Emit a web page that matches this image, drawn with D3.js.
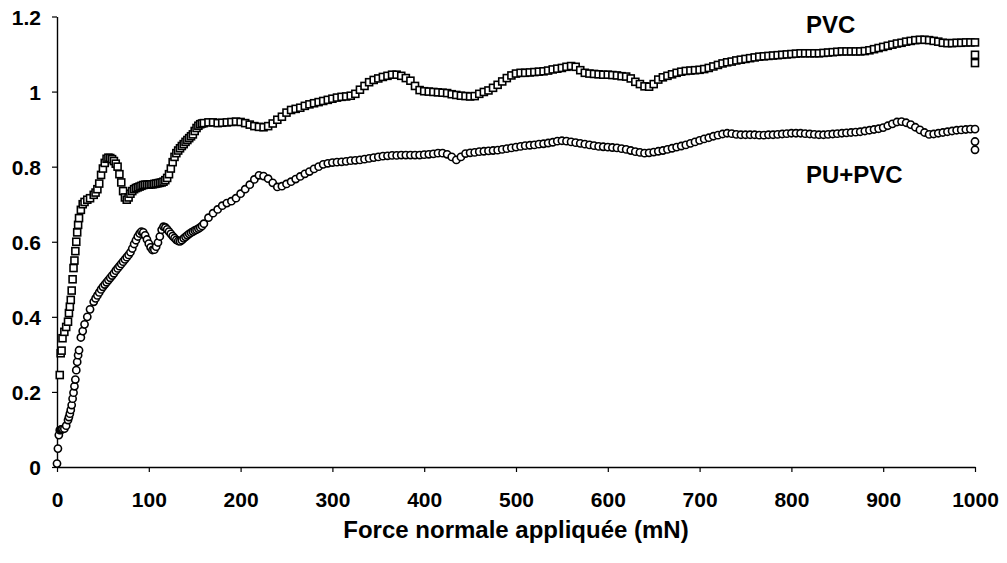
<!DOCTYPE html>
<html>
<head>
<meta charset="utf-8">
<script src="https://cdn.jsdelivr.net/npm/d3@7"></script>
<style>
  body { margin: 0; background: #fff; }
  svg text { font-family: "Liberation Sans", Arial, sans-serif; font-weight: bold; fill: #000; }
</style>
</head>
<body>
<div id="chart"></div>
<script>
// applied normal force (mN), sampled along both curves
var force = [
  0, 1, 2, 3, 4, 5, 6, 8, 10, 12, 13, 14, 15, 16, 17, 18, 19, 20, 21, 22, 23, 24, 26, 28, 30, 33, 36,
  40, 42, 44, 46, 48, 50, 52, 54, 56, 58, 60, 62, 64, 66, 68, 70, 72, 74, 76, 78,
  80, 82, 84, 86, 88, 90, 92, 94, 96, 98, 100, 102, 104, 106, 108, 110, 112, 114, 116, 118,
  120, 122, 124, 126, 128, 130, 132, 134, 136, 138, 140, 142, 144, 146, 148, 150, 152, 154, 156, 158, 160,
  165, 170, 175, 180, 185, 190, 195, 200,
  205, 210, 215, 220, 225, 230, 235, 240, 245, 250, 255, 260, 265, 270, 275, 280, 285, 290, 295, 300,
  305, 310, 315, 320, 325, 330, 335, 340, 345, 350, 355, 360, 365, 370, 375, 380, 385, 390, 395, 400,
  405, 410, 415, 420, 425, 430, 435, 440, 445, 450, 455, 460, 465, 470, 475, 480, 485, 490, 495, 500,
  505, 510, 515, 520, 525, 530, 535, 540, 545, 550, 555, 560, 565, 570, 575, 580, 585, 590, 595, 600,
  605, 610, 615, 620, 625, 630, 635, 640, 645, 650, 655, 660, 665, 670, 675, 680, 685, 690, 695, 700,
  705, 710, 715, 720, 725, 730, 735, 740, 745, 750, 755, 760, 765, 770, 775, 780, 785, 790, 795, 800,
  805, 810, 815, 820, 825, 830, 835, 840, 845, 850, 855, 860, 865, 870, 875, 880, 885, 890, 895, 900,
  905, 910, 915, 920, 925, 930, 935, 940, 945, 950, 955, 960, 965, 970, 975, 980, 985, 990, 995, 1000,
  1000, 1000
];

// friction coefficient, PVC (squares)
var pvc = [
  null, null, null, 0.245, 0.303, 0.31, 0.343, 0.36, 0.373, 0.387, 0.41, 0.427, 0.445, 0.47, 0.50, 0.53, 0.55, 0.575, 0.60, 0.625, 0.645, 0.663, 0.685, 0.700, 0.706, 0.712, 0.716,
  0.725, 0.731, 0.740, 0.755, 0.778, 0.795, 0.810, 0.821, 0.824, 0.823, 0.820, 0.815, 0.808, 0.800, 0.780, 0.758, 0.735, 0.718, 0.712, 0.718,
  0.728, 0.735, 0.740, 0.743, 0.745, 0.747, 0.749, 0.751, 0.752, 0.752, 0.752, 0.753, 0.753, 0.754, 0.755, 0.756, 0.757, 0.758, 0.760, 0.764,
  0.770, 0.780, 0.795, 0.812, 0.826, 0.836, 0.843, 0.849, 0.855, 0.860, 0.866, 0.871, 0.876, 0.881, 0.886, 0.895, 0.903, 0.909, 0.913, 0.915, 0.916,
  0.918, 0.918, 0.916, 0.917, 0.918, 0.919, 0.920, 0.919,
  0.916, 0.912, 0.908, 0.906, 0.905, 0.908, 0.915, 0.925, 0.933, 0.944, 0.951, 0.954, 0.957, 0.962, 0.966, 0.969, 0.972, 0.975, 0.978, 0.981,
  0.984, 0.986, 0.987, 0.989, 0.994, 1.005, 1.015, 1.025, 1.031, 1.035, 1.039, 1.042, 1.045, 1.045, 1.042, 1.036, 1.029, 1.015, 1.004, 1.001,
  1.000, 0.999, 0.998, 0.997, 0.996, 0.993, 0.991, 0.989, 0.988, 0.987, 0.988, 0.994, 0.999, 1.003, 1.010, 1.018, 1.027, 1.036, 1.043, 1.048,
  1.050, 1.050, 1.051, 1.052, 1.053, 1.054, 1.056, 1.059, 1.061, 1.063, 1.066, 1.068, 1.066, 1.057, 1.050, 1.048, 1.047, 1.046, 1.045, 1.045,
  1.044, 1.043, 1.041, 1.040, 1.035, 1.026, 1.020, 1.014, 1.013, 1.020, 1.032, 1.038, 1.042, 1.046, 1.050, 1.053, 1.055, 1.056, 1.057, 1.058,
  1.060, 1.063, 1.067, 1.071, 1.075, 1.078, 1.080, 1.083, 1.085, 1.087, 1.089, 1.091, 1.093, 1.094, 1.095, 1.096, 1.097, 1.098, 1.099, 1.100,
  1.101, 1.102, 1.102, 1.102, 1.102, 1.102, 1.103, 1.104, 1.105, 1.106, 1.107, 1.107, 1.107, 1.107, 1.107, 1.108, 1.110, 1.113, 1.116, 1.119,
  1.122, 1.125, 1.128, 1.130, 1.133, 1.135, 1.137, 1.138, 1.138, 1.137, 1.135, 1.133, 1.130, 1.129, 1.129, 1.130, 1.130, 1.131, 1.131, 1.131,
  1.098, 1.076
];

// friction coefficient, PU+PVC (circles)
var puPvc = [
  0.009, 0.049, 0.085, 0.098, 0.099, 0.100, 0.101, 0.102, 0.110, 0.125, 0.133, 0.142, 0.152, 0.165, 0.182, 0.198, 0.215, 0.233, 0.258, 0.280, 0.298, 0.311, 0.345, 0.362, 0.380, 0.400, 0.420,
  0.440, 0.449, 0.457, 0.465, 0.473, 0.480, 0.486, 0.492, 0.498, 0.504, 0.510, 0.516, 0.523, 0.529, 0.535, 0.541, 0.547, 0.553, 0.559, 0.565,
  0.572, 0.582, 0.594, 0.604, 0.614, 0.622, 0.627, 0.625, 0.617, 0.606, 0.595, 0.585, 0.578, 0.579, 0.587, 0.598, 0.614, 0.632, 0.640, 0.638,
  0.633, 0.627, 0.621, 0.615, 0.610, 0.605, 0.602, 0.601, 0.604, 0.609, 0.613, 0.617, 0.621, 0.624, 0.627, 0.630, 0.632, 0.635, 0.638, 0.642, 0.648,
  0.664, 0.676, 0.686, 0.696, 0.703, 0.708, 0.716, 0.728,
  0.740, 0.752, 0.766, 0.777, 0.775, 0.768, 0.757, 0.746, 0.748, 0.754, 0.760, 0.767, 0.774, 0.781, 0.787, 0.794, 0.800, 0.806, 0.809, 0.811,
  0.812, 0.813, 0.814, 0.816, 0.817, 0.818, 0.820, 0.822, 0.824, 0.826, 0.828, 0.829, 0.830, 0.830, 0.831, 0.831, 0.831, 0.831, 0.831, 0.832,
  0.833, 0.834, 0.836, 0.836, 0.833, 0.826, 0.818, 0.826, 0.835, 0.837, 0.838, 0.840, 0.841, 0.842, 0.843, 0.844, 0.846, 0.848, 0.850, 0.852,
  0.854, 0.856, 0.857, 0.858, 0.860, 0.861, 0.863, 0.865, 0.868, 0.869, 0.868, 0.866, 0.864, 0.862, 0.860, 0.858, 0.856, 0.854, 0.853, 0.852,
  0.851, 0.850, 0.848, 0.846, 0.843, 0.840, 0.838, 0.836, 0.837, 0.839, 0.841, 0.843, 0.846, 0.849, 0.852, 0.855, 0.858, 0.862, 0.866, 0.870,
  0.874, 0.877, 0.881, 0.884, 0.887, 0.889, 0.888, 0.886, 0.885, 0.885, 0.885, 0.885, 0.884, 0.884, 0.885, 0.885, 0.886, 0.887, 0.888, 0.889,
  0.889, 0.889, 0.888, 0.887, 0.886, 0.885, 0.885, 0.886, 0.887, 0.888, 0.889, 0.890, 0.891, 0.892, 0.893, 0.895, 0.897, 0.899, 0.901, 0.904,
  0.909, 0.914, 0.919, 0.920, 0.917, 0.912, 0.905, 0.898, 0.891, 0.886, 0.887, 0.889, 0.891, 0.893, 0.895, 0.897, 0.898, 0.899, 0.900, 0.900,
  0.867, 0.845
];

var xTicks = [0, 100, 200, 300, 400, 500, 600, 700, 800, 900, 1000];
var yTicks = [0, 0.2, 0.4, 0.6, 0.8, 1, 1.2];
var xTitle = "Force normale appliquée (mN)";

var width = 1007, height = 563;
var mLeft = 57, mRight = 975, mTop = 16.5, mBottom = 467;

var svg = d3.select("#chart").append("svg").attr("width", width).attr("height", height);

var x = d3.scaleLinear().domain([0, 1000]).range([mLeft, mRight]);
var y = d3.scaleLinear().domain([0, 1.2]).range([mBottom, mTop]);

var xAxis = d3.axisBottom(x).tickValues(xTicks).tickSize(5).tickSizeOuter(0).tickPadding(20)
    .tickFormat(d3.format("d"));
var yAxis = d3.axisLeft(y).tickValues(yTicks).tickSize(5).tickSizeOuter(0).tickPadding(11)
    .tickFormat(function(d) { return d3.format("")(d); });

var gx = svg.append("g").attr("transform", "translate(0," + mBottom + ")").call(xAxis);
var gy = svg.append("g").attr("transform", "translate(" + mLeft + ",0)").call(yAxis);

[gx, gy].forEach(function(g) {
    g.select(".domain").attr("stroke", "#000").attr("stroke-width", 1.4);
    g.selectAll(".tick line").attr("stroke", "#000").attr("stroke-width", 1.2);
    g.selectAll(".tick text").attr("font-size", 21).attr("font-family", null).attr("fill", "#000");
});
gx.selectAll(".tick text").attr("dy", "0.71em");
gy.selectAll(".tick text").attr("dy", "0.36em");

var pvcData = force.map(function(f, i) { return { f: f, v: pvc[i] }; })
    .filter(function(d) { return d.v !== null; });
var puData = force.map(function(f, i) { return { f: f, v: puPvc[i] }; });

var s = 7;
svg.append("g").selectAll("rect").data(pvcData).enter()
    .append("rect")
    .attr("x", function(d) { return x(d.f) - s / 2; })
    .attr("y", function(d) { return y(d.v) - s / 2; })
    .attr("width", s)
    .attr("height", s)
    .attr("fill", "#fff")
    .attr("stroke", "#000")
    .attr("stroke-width", 1.6);

svg.append("g").selectAll("circle").data(puData).enter()
    .append("circle")
    .attr("cx", function(d) { return x(d.f); })
    .attr("cy", function(d) { return y(d.v); })
    .attr("r", 3.6)
    .attr("fill", "#fff")
    .attr("stroke", "#000")
    .attr("stroke-width", 1.6);

svg.append("text").attr("x", 806).attr("y", 33).attr("font-size", 24).text("PVC");
svg.append("text").attr("x", 806).attr("y", 183).attr("font-size", 24).text("PU+PVC");

svg.append("text")
    .attr("x", (mLeft + mRight) / 2)
    .attr("y", 538)
    .attr("text-anchor", "middle")
    .attr("font-size", 24)
    .text(xTitle);
</script>
</body>
</html>
